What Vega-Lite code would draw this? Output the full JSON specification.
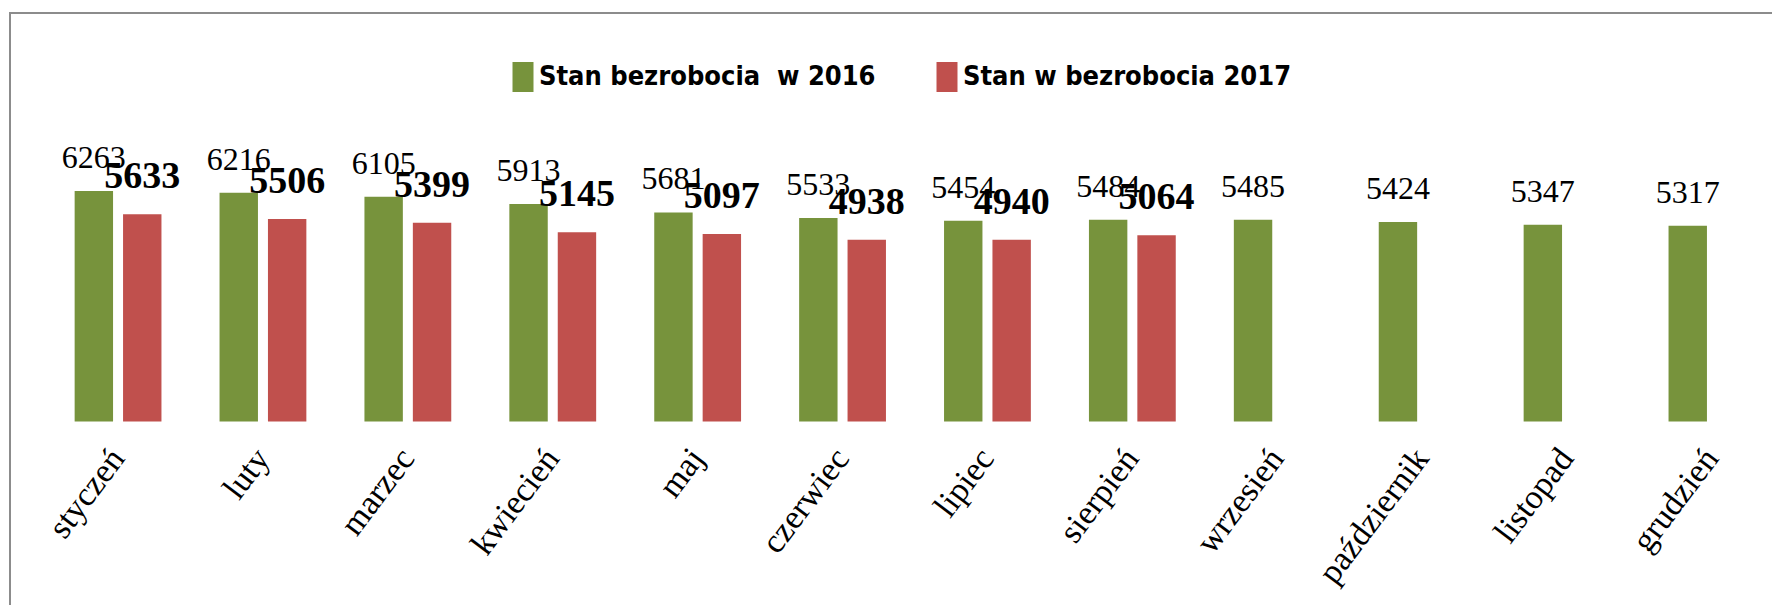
{
  "$schema": "https://vega.github.io/schema/vega-lite/v6.json",
  "width": 1810,
  "height": 622,
  "autosize": {"type": "none"},
  "padding": {"left": 10, "top": 13, "right": -48, "bottom": -30},
  "background": "white",
  "config": {"view": {"stroke": "#8c8c8c", "strokeWidth": 2}},
  "data": {"values": [
    {"month": "styczeń", "year": 2016, "series": "Stan bezrobocia\u00a0 w 2016", "value": 6263},
    {"month": "luty", "year": 2016, "series": "Stan bezrobocia\u00a0 w 2016", "value": 6216},
    {"month": "marzec", "year": 2016, "series": "Stan bezrobocia\u00a0 w 2016", "value": 6105},
    {"month": "kwiecień", "year": 2016, "series": "Stan bezrobocia\u00a0 w 2016", "value": 5913},
    {"month": "maj", "year": 2016, "series": "Stan bezrobocia\u00a0 w 2016", "value": 5681},
    {"month": "czerwiec", "year": 2016, "series": "Stan bezrobocia\u00a0 w 2016", "value": 5533},
    {"month": "lipiec", "year": 2016, "series": "Stan bezrobocia\u00a0 w 2016", "value": 5454},
    {"month": "sierpień", "year": 2016, "series": "Stan bezrobocia\u00a0 w 2016", "value": 5484},
    {"month": "wrzesień", "year": 2016, "series": "Stan bezrobocia\u00a0 w 2016", "value": 5485},
    {"month": "październik", "year": 2016, "series": "Stan bezrobocia\u00a0 w 2016", "value": 5424},
    {"month": "listopad", "year": 2016, "series": "Stan bezrobocia\u00a0 w 2016", "value": 5347},
    {"month": "grudzień", "year": 2016, "series": "Stan bezrobocia\u00a0 w 2016", "value": 5317},
    {"month": "styczeń", "year": 2017, "series": "Stan w bezrobocia 2017", "value": 5633},
    {"month": "luty", "year": 2017, "series": "Stan w bezrobocia 2017", "value": 5506},
    {"month": "marzec", "year": 2017, "series": "Stan w bezrobocia 2017", "value": 5399},
    {"month": "kwiecień", "year": 2017, "series": "Stan w bezrobocia 2017", "value": 5145},
    {"month": "maj", "year": 2017, "series": "Stan w bezrobocia 2017", "value": 5097},
    {"month": "czerwiec", "year": 2017, "series": "Stan w bezrobocia 2017", "value": 4938},
    {"month": "lipiec", "year": 2017, "series": "Stan w bezrobocia 2017", "value": 4940},
    {"month": "sierpień", "year": 2017, "series": "Stan w bezrobocia 2017", "value": 5064}
  ]},
  "encoding": {
    "x": {
      "field": "month", "type": "nominal",
      "sort": ["styczeń", "luty", "marzec", "kwiecień", "maj", "czerwiec", "lipiec", "sierpień", "wrzesień", "październik", "listopad", "grudzień"],
      "scale": {"paddingInner": 0, "paddingOuter": 0.2457},
      "axis": {"offset": -213.5, "domain": false, "ticks": false, "grid": false, "title": null,
               "labelAngle": -53, "labelAlign": "right", "labelBaseline": "middle", "labelPadding": 31,
               "labelFont": "Liberation Serif", "labelFontSize": 34, "labelColor": "black", "labelLimit": 400}
    },
    "y": {"field": "value", "type": "quantitative", "scale": {"domain": [-5800, 11100], "nice": false, "zero": false}, "axis": null}
  },
  "layer": [
    {
      "mark": {"type": "bar"},
      "encoding": {
        "xOffset": {"field": "series", "type": "nominal", "scale": {"domain": ["Stan bezrobocia\u00a0 w 2016", "Stan w bezrobocia 2017"], "paddingInner": 0.2066, "paddingOuter": 0.6}},
        "color": {
          "field": "series", "type": "nominal",
          "scale": {"domain": ["Stan bezrobocia\u00a0 w 2016", "Stan w bezrobocia 2017"], "range": ["#77933C", "#C0504D"]},
          "legend": {"orient": "none", "legendX": 498, "legendY": 49, "direction": "horizontal", "title": null,
                     "symbolType": "M-0.7,-1L0.7,-1L0.7,1L-0.7,1Z", "symbolSize": 900, "symbolStrokeWidth": 0, "symbolOpacity": 1,
                     "labelFont": "DejaVu Sans Condensed", "labelFontWeight": "bold",
                     "labelFontSize": 27, "labelColor": "black", "labelLimit": 600, "labelOffset": 1,
                     "columnPadding": 56, "padding": 0}
        }
      }
    },
    {
      "transform": [{"filter": "datum.year == 2016"}],
      "mark": {"type": "text", "font": "Liberation Serif", "fontSize": 32, "baseline": "alphabetic", "align": "center", "dy": -23, "color": "black"},
      "encoding": {
        "xOffset": {"field": "series", "type": "nominal"},
        "text": {"field": "value", "type": "quantitative", "format": "d"}
      }
    },
    {
      "transform": [{"filter": "datum.year == 2017"}],
      "mark": {"type": "text", "font": "Liberation Serif", "fontSize": 38, "fontWeight": "bold", "baseline": "alphabetic", "align": "center", "dy": -26, "color": "black"},
      "encoding": {
        "xOffset": {"field": "series", "type": "nominal"},
        "text": {"field": "value", "type": "quantitative", "format": "d"}
      }
    },
    {
      "data": {"values": [{"a": 1}]},
      "mark": {"type": "rule", "color": "#8a8a8a", "strokeWidth": 3},
      "encoding": {
        "x": {"datum": "styczeń", "type": "nominal", "bandPosition": 0},
        "x2": {"datum": "grudzień", "bandPosition": 1},
        "y": {"datum": 0, "type": "quantitative"}
      }
    }
  ]
}
